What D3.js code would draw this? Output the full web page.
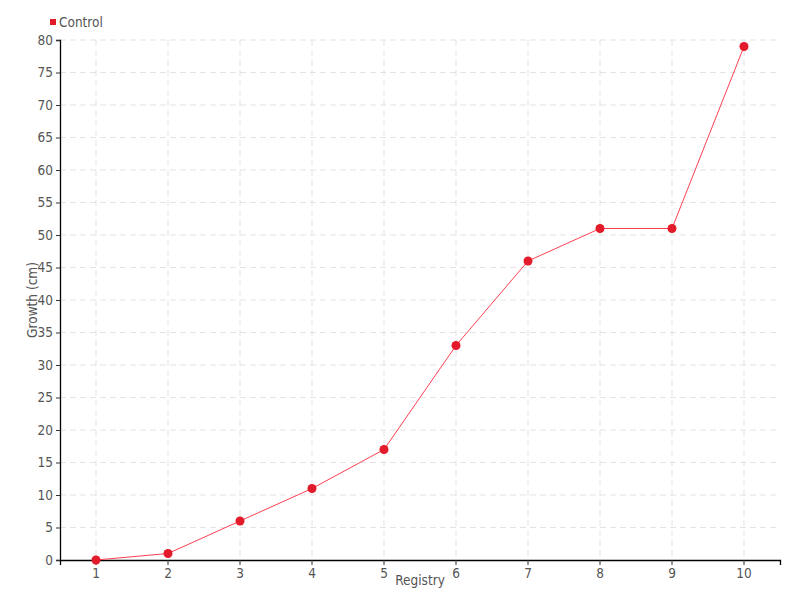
<!DOCTYPE html>
<html><head><meta charset="utf-8">
<script src="https://cdn.jsdelivr.net/npm/d3@7"></script>
<style>
body{margin:0;background:#fff;}
text{font-family:"DejaVu Sans Condensed","DejaVu Sans",sans-serif;}
</style></head>
<body>
<svg id="chart" width="800" height="600"></svg>
<script>
const categories = ["1","2","3","4","5","6","7","8","9","10"];
const controlValues = [0,1,6,11,17,33,46,51,51,79];
const yTicks = [0,5,10,15,20,25,30,35,40,45,50,55,60,65,70,75,80];
const seriesName = "Control";

const svg = d3.select("#chart");
const m = {l:60, r:20, t:40, b:40};
const W = 800, H = 600;
const x = d3.scaleBand().domain(categories).range([m.l, W - m.r]);
const y = d3.scaleLinear().domain([0,80]).range([H - m.b, m.t]);
const cx = d => x(d) + x.bandwidth()/2;
const FS = "13.5px";

const grid = svg.append("g");
grid.selectAll("line.h").data(yTicks.filter(t=>t>0)).enter().append("line")
  .attr("x1", m.l).attr("x2", W - m.r).attr("y1", d=>y(d)).attr("y2", d=>y(d))
  .attr("stroke","#e3e3e3").attr("stroke-dasharray","6,4");
grid.selectAll("line.v").data(categories).enter().append("line")
  .attr("x1", d=>cx(d)).attr("x2", d=>cx(d)).attr("y1", m.t).attr("y2", H - m.b)
  .attr("stroke","#e3e3e3").attr("stroke-dasharray","6,4");

const xAxis = svg.append("g").attr("transform",`translate(0,${H-m.b})`)
  .call(d3.axisBottom(x).tickSizeOuter(0).tickSize(5));
const yAxis = svg.append("g").attr("transform",`translate(${m.l},0)`)
  .call(d3.axisLeft(y).tickValues(yTicks).tickSizeOuter(0).tickSize(4));
[xAxis,yAxis].forEach(a=>{
  a.selectAll("path").attr("stroke","#000").attr("stroke-width",1.3);
  a.selectAll("line").attr("stroke","#333");
  a.selectAll("text").attr("fill","#555").style("font-size",FS);
});
xAxis.selectAll("text").attr("dy","0.75em");

const line = d3.line().x((d,i)=>cx(categories[i])).y(d=>y(d));
svg.append("path").datum(controlValues).attr("d", line)
  .attr("fill","none").attr("stroke","#ff4050").attr("stroke-width",1);
svg.selectAll("circle.pt").data(controlValues).enter().append("circle")
  .attr("cx",(d,i)=>cx(categories[i])).attr("cy",d=>y(d)).attr("r",4.5)
  .attr("fill","#e31a2a");

svg.append("text").attr("x", (m.l + W - m.r)/2).attr("y", 585)
  .attr("text-anchor","middle").attr("fill","#555").style("font-size",FS).text("Registry");
svg.append("text").attr("transform",`translate(37,${(m.t+H-m.b)/2}) rotate(-90)`)
  .attr("text-anchor","middle").attr("fill","#555").style("font-size",FS).text("Growth (cm)");

svg.append("rect").attr("x",50).attr("y",19).attr("width",6).attr("height",6).attr("fill","#e31a2a");
svg.append("text").attr("x",59).attr("y",27).attr("fill","#555").style("font-size",FS).text(seriesName);
</script>
</body></html>
